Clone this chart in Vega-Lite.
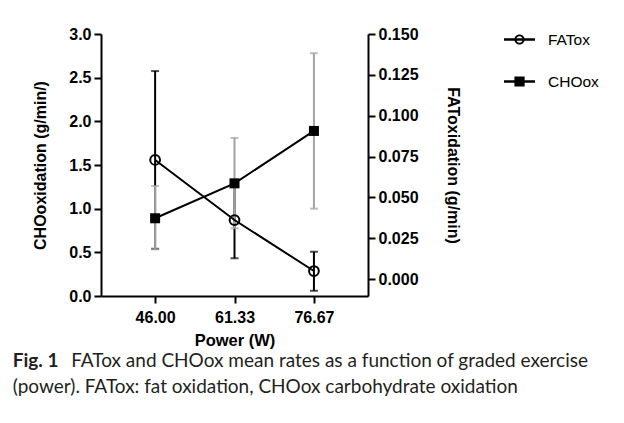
{
  "$schema": "https://vega.github.io/schema/vega-lite/v6.json",
  "width": 267,
  "height": 262,
  "autosize": "none",
  "padding": {"left": 101, "top": 34, "right": 256, "bottom": 127},
  "background": "white",
  "data": {
    "values": [
      {"power": 46.0, "cho": 0.89, "cho_lo": 0.535, "cho_hi": 1.26, "fat": 0.0729, "fat_lo": 0.0185, "fat_hi": 0.1273},
      {"power": 61.33, "cho": 1.29, "cho_lo": 0.775, "cho_hi": 1.81, "fat": 0.0361, "fat_lo": 0.0127, "fat_hi": 0.0595},
      {"power": 76.67, "cho": 1.89, "cho_lo": 1.0, "cho_hi": 2.78, "fat": 0.0049, "fat_lo": -0.0072, "fat_hi": 0.0167}
    ]
  },
  "title": {
    "text": "Fig. 1",
    "subtitle": ["\u200b\u00a0\u00a0\u00a0\u00a0\u00a0\u00a0\u00a0\u00a0\u00a0\u00a0\u00a0\u00a0FATox and CHOox mean rates as a function of graded exercise", "(power). FATox: fat oxidation, CHOox carbohydrate oxidation"],
    "orient": "bottom",
    "anchor": "start",
    "frame": "bounds",
    "font": "Lato",
    "fontSize": 19,
    "fontWeight": "bold",
    "color": "#231f20",
    "subtitleFont": "Lato",
    "subtitleFontSize": 19,
    "subtitleFontWeight": "normal",
    "subtitleColor": "#231f20",
    "subtitlePadding": -19,
    "subtitleLineHeight": 26,
    "offset": 3,
    "dx": -20
  },
  "encoding": {
    "x": {
      "field": "power",
      "type": "quantitative",
      "scale": {"domain": [35.55, 87.11], "nice": false, "zero": false},
      "axis": {"values": [46, 61.33, 76.67], "format": ".2f", "title": "Power (W)", "labelPadding": 6, "titlePadding": 7, "titleFontSize": 16.5}
    }
  },
  "layer": [
    {
      "mark": {"type": "errorbar", "ticks": {"size": 8}, "thickness": 2},
      "encoding": {
        "y": {"field": "fat_lo", "type": "quantitative", "scale": {"domain": [-0.0104, 0.15], "nice": false, "zero": false}, "axis": null},
        "y2": {"field": "fat_hi"},
        "color": {"value": "black"}
      }
    },
    {
      "mark": {"type": "errorbar", "ticks": {"size": 8}, "thickness": 2},
      "encoding": {
        "y": {"field": "cho_lo", "type": "quantitative", "scale": {"domain": [0, 3], "nice": false, "zero": false}, "axis": null},
        "y2": {"field": "cho_hi"},
        "color": {"value": "#a3a3a3"}
      }
    },
    {
      "encoding": {
        "y": {
          "field": "cho",
          "type": "quantitative",
          "scale": {"domain": [0, 3], "nice": false, "zero": false},
          "axis": {"orient": "left", "values": [0, 0.5, 1, 1.5, 2, 2.5, 3], "format": ".1f", "title": "CHOoxidation (g/min/)", "titlePadding": 20}
        }
      },
      "layer": [
        {"mark": {"type": "line", "color": "black", "strokeWidth": 2}},
        {"mark": {"type": "point", "shape": "square", "filled": true, "color": "black", "size": 100, "opacity": 1}}
      ]
    },
    {
      "encoding": {
        "y": {
          "field": "fat",
          "type": "quantitative",
          "scale": {"domain": [-0.0104, 0.15], "nice": false, "zero": false},
          "axis": {"orient": "right", "values": [0, 0.025, 0.05, 0.075, 0.1, 0.125, 0.15], "format": ".3f", "title": "FAToxidation (g/min)", "titlePadding": 26}
        }
      },
      "layer": [
        {"mark": {"type": "line", "color": "black", "strokeWidth": 2}},
        {"mark": {"type": "point", "shape": "circle", "filled": false, "color": "black", "strokeWidth": 2, "size": 95, "opacity": 1}}
      ]
    },
    {
      "data": {"values": [{"series": "FATox", "power": 46}, {"series": "CHOox", "power": 46}]},
      "mark": {"type": "point", "filled": true, "color": "black", "opacity": 0},
      "encoding": {
        "shape": {
          "field": "series",
          "type": "nominal",
          "scale": {
            "domain": ["FATox", "CHOox"],
            "range": [
              "M-1,-0.08H1V0.08H-1Z M-0.33,0A0.33,0.33 0 1,1 0.33,0A0.33,0.33 0 1,1 -0.33,0Z M-0.21,0A0.21,0.21 0 1,0 0.21,0A0.21,0.21 0 1,0 -0.21,0Z",
              "M-1,-0.08H1V0.08H-1Z M-0.33,-0.33H0.33V0.33H-0.33Z"
            ]
          },
          "legend": {
            "orient": "none",
            "legendX": 403,
            "legendY": -10,
            "title": null,
            "padding": 0,
            "symbolSize": 961,
            "symbolStrokeWidth": 0,
            "labelFont": "Liberation Sans",
            "labelFontSize": 15.5,
            "labelColor": "black",
            "labelOffset": 13,
            "rowPadding": 18,
            "encode": {"symbols": {"update": {"opacity": {"value": 1}, "fill": {"value": "black"}, "strokeWidth": {"value": 0}}}}
          }
        }
      }
    }
  ],
  "resolve": {"scale": {"y": "independent"}, "axis": {"y": "independent"}},
  "config": {
    "view": {"stroke": null},
    "axis": {
      "domainColor": "black",
      "domainWidth": 2,
      "tickColor": "black",
      "tickWidth": 2,
      "tickSize": 7,
      "labelFont": "Liberation Sans",
      "labelFontWeight": "bold",
      "labelFontSize": 16,
      "labelColor": "black",
      "labelPadding": 3,
      "labelFlush": false,
      "labelOverlap": false,
      "titleFont": "Liberation Sans",
      "titleFontWeight": "bold",
      "titleFontSize": 16,
      "titleColor": "black",
      "grid": false
    }
  }
}
